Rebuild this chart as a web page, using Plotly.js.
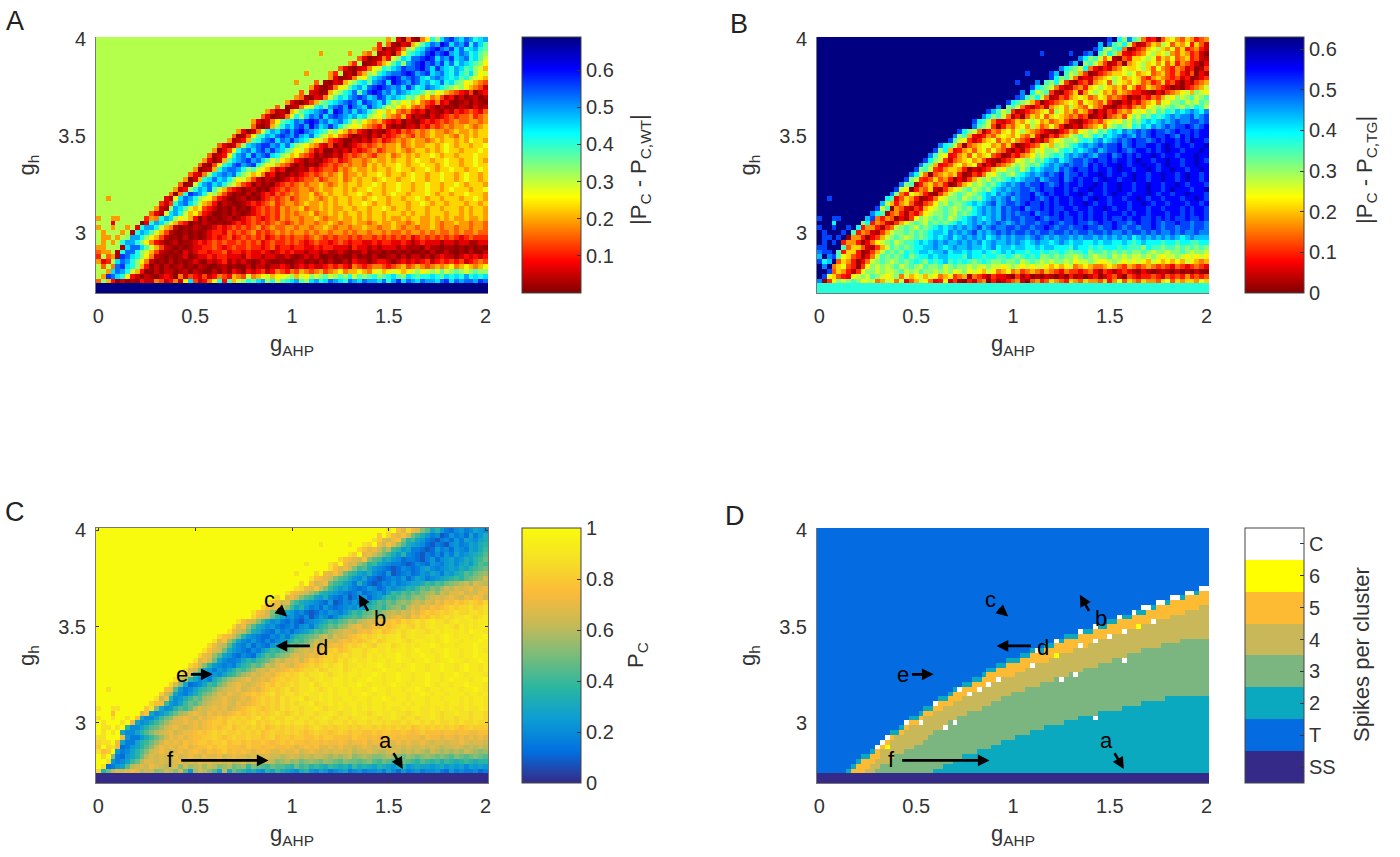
<!DOCTYPE html>
<html>
<head>
<meta charset="utf-8">
<script src="https://cdn.plot.ly/plotly-3.0.1.min.js"></script>
<style>body{margin:0;background:#fff}</style>
</head>
<body>
<div id="fig" style="width:1400px;height:857px"></div>
<script>
// grid of the parameter scan: 81 columns (gAHP), 53 rows (gh), row 0 is gh = 4
const nCols = 81;
const xTicks = [0, 0.5, 1, 1.5, 2];
const yTicks = [3, 3.5, 4];

// P_C: a=0, b=.04 ... z=1, one letter per cell.
// pcEdge = number of leading cells of each row that are at P_C = 1
const pcEdge = [60,58,56,55,53,52,50,48,47,45,44,42,41,39,37,35,34,32,31,29,28,27,25,24,23,22,21,20,19,18,17,16,15,14,12,12,11,10,9,0,0,0,0,0,0,0,0,0,0,0,0,0,0];
const pcRows = [
"wztrvsrnlhjgedfgefhgf",
"uzvsrtqmkigefcdgefdhegi",
"zwurqstnjkhgedcefdgehgfhi",
"wvzsqtrolihgfdcedcfgefhgij",
"zvtrsqnpkjgheedcdgefdgfehgik",
"wuzrsqomkigjfedcedfdgehfghijl",
"vtsrqtnlkhigfdeedcegdfghfgihjkm",
"wuzsqromjkhgfeedcdfedgfeghfhigjlk",
"zwtrsqnkligfedcdfedeghfefghgihjklm",
"vzsrtqmkjhgifedgcdefdegfhgehgijlkmno",
"wtsrqnlkigfhedcdefegdfhgefghijkjlmnoq",
"vztqrsmkjhgeifdcdfegefghhikjlkmnopqorqp",
"wvsrtqnkighfedegfdegfghjikmlnmoqprqrsqrs",
"wtsrqomjihgfedegdefgehkjlkmlnopnqprrsqrqsr",
"vzrsqnlkhgifedfcefgdfgikjlmlnonpqrqrsrqsrtsq",
"wusqrmkihgfedgcdfegefhjlkmlnonpqprqsrtsutuvutv",
"vtrsqnkhjgefdgedefgfhgjkljmnomprqsrtstuvuvvwuvw",
"wtsqnlihgefdcdfegfegikjlmnmopqprqsrtutuvuvwvvwwvw",
"zvsrqmjhfgedfcegfdfhjklkmnopnqrsrqtsutvuvwvwwxwvwx",
"wtrqnkhfgedfdcefghikjlmonpqrqsrtutvuvwvwxwwvwxwwxwxx",
"vrsolihfgedefdfgehjkmlnoqrsqrtsutuvwvuwvwxwwxwvxwxwxxwxy",
"wsqpmihfedgefdfghjlkmopqrrqstsuvtuvwvwxwwvwxwxxwxwyxxwxxwxy",
"vtsqnjgfeddfegehjklmnpqorqrstuvuvwvwwxvwxwwxxwxyxwxxwxxyxwxx",
"wrtolhfegedfdfgijlkmoqprrqstsutuvwuvwwxwvwxxwxwxyxxwxxxyxwxxwx",
"vsqplhfegdfedghjkmlnoprqrstsuvuvwvuwwxvwxwxwxxyxwxxwxxxyxxwxxxw",
"wtrqmigfedfegikjlmnpqrqsrtuvtuvwwvwxwwxwxxwxyxxwxxyxxwxxyxwxxxw",
"vsrolhgedfedhjlkmnoqrqrsrtuvuvwvwwvxwxwxxyxwxxyxxwxyxxwxxyxxwxx",
"wrsqmhfeefhjiklmoqprrsqsutuvvuwvwxwwxwxxwxyxxwxxyxwxxyxxwxxyxxwx",
"vtqnjgfefehjkmlnqprsrqstuvuvwvwxvwwxwxxyxwxxwxyxxwxxyxxwxyxxwxxx",
"wrqmhgegfhjlkmoqrqsrstutuvvwuvwwxvwxwxxwxyxxwxxyxxwxxyxxwxyxxwxxyx",
"vrskhfegfhjkmoprqrsrtuvuvwvwwxwvwxwxxwxxyxwxxyxxwxxyxxwxxyxwxxxwxx",
"wqpjhfgeikmopqrsqrsrtuvuvvwwvwxwwxxwxwxxyxxwxxyxxwxxyxxwxyxxxwxxyxx",
"vrnhdefhkjmoqrsrqrstutvuvwvwwxvwxwxxwxxyxwxxwxyxxwxxxyxwxxwxxyxxxwxx",
"tslgefhjklnpqrrsqrsrtuvuvwuvwwxwvwxwxxwxxwxyxxwxxwxxyxwxxwxxxwxxyxwxxw",
"zuqohfegikmnprqsrrstutuvwuvwwvwxwwxwxwxxwxxyxwxxwxxxwxxyxwxxwxxxwxxwxxx",
"wqsjfgikmlopqrsrqrsrtuvuvuwvwwxvwwxwxwwxxwxxwxxyxwxxwxxxwxxwxxxwxwxxwxx",
"vtskgfhkmlnpqrrsrqsrstuvuvuwvwvwwxvwwxwxwxxwxwxxwxxxwxwxxwxxxwxxwxwxxwxw",
"uwnhfgjlkmprqrsrsqrstuvutuvuwvwwvwwxwvwwxwwxwxwxxwxwwxwxxwwxwxwxwwxwwxww",
"rthfgikmoprsrqsrsrstutuvuvuvwvuvwvwwvwwxwvwwxwwvwxwwxwwvwxwwxwvwwxwwvwwvww",
"wzzwzzwzthffhkmnqrsrqsrstutuvuvuvwuvwvvwwvwwvwwxwvwwvwwxwwvwwxwvwwvwwxwvwwvwwvwwv",
"zwzzzwzshfgikmoqrrsrsrstuutvuvuvwuvuvwvwvwwvwvwwvwwvwvwwvwwvwvvwvwwvwvwvvwvwvvwv",
"zwwzwzjffhjlmoqrsrqrsrstutuvtuvuvuvtuvuvuvvuvwvuvuvvuvuvvuvuvuvuvtuvuvuvuvutuvuu",
"zwzwzhffhjlnpqrsqrsstutuvuvuuvuvuvtuvuuvuvutuvuutuvutuuttutuuttutstutttsttsttsst",
"wwzzzsgeegikmoqsrsrsttuuvutuvuuvuutuvtuutuuttutuutttsuttststttstsssrtssrssrsrsrsr",
"vwwzsheehjkmoqsrsrtstuutuuvtuututtutstututtsttstsstsrsstrssrsrsrsrrsrqrrqrrsrqrrq",
"uzvwsdeghjlnqsrsrstrsttutuutttsuttsttsstsrststrrsrsrrqrsrqrrsqrqrqqrqrqpqqrqpqpqp",
"wtuzgefhjlnqrsrqrsrstsrtstuststsrstsrrsrrsqrsrqrqrrqrpqqrqppqrqpqpqpoqpopopoqpono",
"zvznedghjmprqrqrsqrsrqsrrsqrsrrqrqqrqqpqrqpqpqqpopopqnoponnoponmonmnonmnmlnmlmnml",
"zzwgefhkmprrqrqqrsqrqsrrqrqrpqrpqpoqpnopnomnonmonmlnmmlmnlkmlklmlkjlkjkikjijkjijj",
"zwdeghlpqrqsrqpqrnqopqoqpnopmnoknmlkmllkjmkljkjikjijhkijihjihgijghihhghighghfhghg",
"vjmprqrsrpqqnoqpnqlgoqpnlhpimkjhigfjhkihgfijgfhgefghefgeffgehfdgefgeffgedgefeefde",
"a",
"a"
];
// isolated cells inside the P_C = 1 area: [row, col, level]
const pcStray = [[3,46,"w"],[3,52,"w"],[7,43,"w"],[9,41,"w"],[33,2,"w"],[37,0,"w"],[37,3,"w"],[37,4,"w"],[38,3,"t"]];

// reference P_C used in the |P_C - P_C,x| panels
const pcWT = 0.69;
const pcTG = 0.37;

// panel D: class borders per column, as the row where each class starts
const edgeRow = [51,51,51,51,51,51,50,49,48,47,47,46,45,44,43,42,42,41,40,39,39,38,37,37,36,35,35,34,33,33,32,32,31,31,30,29,29,28,28,27,27,27,26,26,25,25,25,24,24,23,23,22,22,22,21,21,21,20,20,20,19,19,18,18,18,17,17,17,16,16,15,15,15,14,14,14,13,13,13,12,12];
const fourRow = [51,51,51,51,51,51,51,51,51,51,50,49,48,46,45,44,43,43,42,41,41,40,39,39,38,38,37,37,36,36,35,35,34,34,33,33,32,32,31,31,31,30,30,29,29,28,28,28,27,27,26,26,26,25,25,25,24,24,23,23,23,22,22,22,21,21,21,20,20,20,19,19,19,18,18,18,17,17,17,16,16];
const threeRow = [51,51,51,51,51,51,51,51,51,51,51,51,50,49,49,48,47,47,46,46,45,45,44,43,42,42,41,40,40,39,39,38,38,38,37,37,36,36,35,35,34,34,34,33,33,33,32,32,32,31,31,31,30,30,30,29,29,29,28,28,28,27,27,27,26,26,26,25,25,25,25,24,24,24,24,23,23,23,23,23,23];
const twoRow = [51,51,51,51,51,51,51,51,51,51,51,51,51,51,51,51,51,51,51,51,51,51,51,51,50,50,49,49,48,48,47,47,47,46,46,46,45,45,44,44,44,43,43,43,42,42,42,41,41,41,41,40,40,40,39,39,39,39,38,38,38,38,38,37,37,37,37,36,36,36,36,36,35,35,35,35,35,35,35,35,35];
const chaosCells = [[45,12],[44,13],[43,14],[40,18],[40,21],[36,24],[41,26],[40,28],[33,29],[34,31],[33,33],[32,35],[31,37],[28,44],[25,45],[23,49],[31,50],[30,53],[24,54],[21,54],[23,57],[20,57],[39,57],[22,60],[18,62],[21,63],[27,63],[17,65],[16,67],[16,68],[19,69],[15,70],[15,71],[14,73],[14,74],[13,76],[13,77],[12,79],[12,80]];
const sixCells = [[45,14],[26,49],[20,66]];
const classNames = ["SS","T","2","3","4","5","6","C"];
const classColors = ["#352a87","#056be1","#0aa9c0","#7bb57f","#c8b85a","#fdbb33","#ffff00","#ffffff"];

// arrows of panels C and D: label, label x/y, tail x/y, head x/y
const arrowNames = ["a","b","c","d","e","f"];
const labelX = [1.483,1.452,0.886,1.157,0.431,0.371];
const labelY = [2.906,3.543,3.639,3.394,3.252,2.81];
const tailX = [1.52,1.397,0.92,1.1,0.47,0.42];
const tailY = [2.851,3.574,3.6,3.4,3.252,2.805];
const headX = [1.572,1.345,0.975,0.915,0.59,0.879];
const headY = [2.76,3.666,3.553,3.4,3.252,2.805];

const jetRev = [[0,"#800000"],[0.125,"#ff0000"],[0.375,"#ffff00"],[0.625,"#00ffff"],[0.875,"#0000ff"],[1,"#000080"]];
const parula = [[0,"#352a87"],[0.125,"#0270e0"],[0.25,"#0c9dd4"],[0.375,"#2ab7a0"],[0.5,"#7abc7a"],[0.625,"#c8ba55"],[0.75,"#fcbb39"],[0.875,"#f5e026"],[1,"#f9fb0e"]];

const W = 1400, H = 857;
const fontName = "Liberation Sans, Arial, sans-serif";
const tickFont = {family: fontName, size: 20, color: "#333"};
const titleFont = {family: fontName, size: 22, color: "#333"};

// decode the letter rows, row 0 on top
const pcGrid = pcRows.map((tail, r) => {
    let s = ("z".repeat(pcEdge[r]) + tail).slice(0, nCols);
    s = s.padEnd(nCols, s[s.length - 1]);
    return s.split("").map(ch => (ch.charCodeAt(0) - 97) * 0.04);
});
pcStray.forEach(c => { pcGrid[c[0]][c[1]] = (c[2].charCodeAt(0) - 97) * 0.04; });

// panel D classes
const classGrid = pcGrid.map((row, r) => row.map((_, c) => {
    if (r >= 51) return 0;
    if (r < edgeRow[c]) return 1;
    if (r === edgeRow[c]) return 2;
    if (r >= twoRow[c]) return 2;
    if (r >= threeRow[c]) return 3;
    if (r >= fourRow[c]) return 4;
    return 5;
}));
chaosCells.forEach(c => { classGrid[c[0]][c[1]] = 7; });
sixCells.forEach(c => { classGrid[c[0]][c[1]] = 6; });

const flip = g => g.slice().reverse();
const stepScale = [];
classColors.forEach((col, i) => {
    stepScale.push([i / 8, col]);
    stepScale.push([(i + 1) / 8, col]);
});

// pixel boxes of the panels: left, right, top, bottom, colorbar left
const boxes = [
    [96, 488, 37, 293, 522],
    [817, 1209, 37, 293, 1245],
    [96, 488, 528, 783, 522],
    [817, 1209, 528, 783, 1245]
];

function hm(z, i, scale, zmin, zmax, cb) {
    const b = boxes[i];
    return {
        type: "heatmap", z: flip(z), x0: 0, dx: 0.025, y0: 2.7, dy: 0.025,
        xaxis: i ? "x" + (i + 1) : "x", yaxis: i ? "y" + (i + 1) : "y",
        colorscale: scale, zmin: zmin, zmax: zmax, hoverinfo: "skip",
        colorbar: Object.assign({
            x: b[4] / W, xanchor: "left", xref: "paper",
            y: 1 - b[3] / H, yanchor: "bottom", yref: "paper",
            len: (b[3] - b[2]) / H, lenmode: "fraction",
            thickness: 59, thicknessmode: "pixels", xpad: 0, ypad: 0,
            outlinecolor: "#444", outlinewidth: 1, ticks: "inside", ticklen: 4,
            tickcolor: "#333", tickfont: tickFont
        }, cb)
    };
}

const data = [
    hm(pcGrid.map(r => r.map(p => Math.abs(p - pcWT))), 0, jetRev, 0, 0.689, {tickvals: [0.1,0.2,0.3,0.4,0.5,0.6], ticktext: ["0.1","0.2","0.3","0.4","0.5","0.6"]}),
    hm(pcGrid.map(r => r.map(p => Math.abs(p - pcTG))), 1, jetRev, 0, 0.63, {tickvals: [0,0.1,0.2,0.3,0.4,0.5,0.6], ticktext: ["0","0.1","0.2","0.3","0.4","0.5","0.6"]}),
    hm(pcGrid, 2, parula, 0, 1, {tickvals: [0,0.2,0.4,0.6,0.8,1], ticktext: ["0","0.2","0.4","0.6","0.8","1"]}),
    hm(classGrid, 3, stepScale, -0.5, 7.5, {tickvals: classNames.map((_, i) => i), ticktext: classNames})
];

const layout = {
    width: W, height: H, showlegend: false, paper_bgcolor: "#fff", plot_bgcolor: "#fff",
    margin: {l: 0, r: 0, t: 0, b: 0, autoexpand: false},
    annotations: []
};

boxes.forEach((b, i) => {
    const sfx = i ? String(i + 1) : "";
    const boxed = i === 2;
    layout["xaxis" + sfx] = {
        domain: [b[0] / W, b[1] / W], range: [-0.0125, 2.0125], anchor: "y" + sfx,
        tickvals: xTicks, ticktext: xTicks.map(String), tickfont: tickFont, ticklabelstandoff: 5,
        showgrid: false, zeroline: false, showline: true, linecolor: "#777", linewidth: 1,
        mirror: boxed ? "ticks" : false, ticks: boxed ? "inside" : "", ticklen: 3, tickcolor: "#333",
        title: {text: "g<sub>AHP</sub>", font: titleFont, standoff: 9}
    };
    layout["yaxis" + sfx] = {
        domain: [1 - b[3] / H, 1 - b[2] / H], range: [2.6875, 4.0125], anchor: "x" + sfx,
        tickvals: yTicks, ticktext: yTicks.map(String), tickfont: tickFont, ticklabelstandoff: 5,
        showgrid: false, zeroline: false, showline: true, linecolor: "#777", linewidth: 1,
        mirror: boxed ? "ticks" : false, ticks: boxed ? "inside" : "", ticklen: 3, tickcolor: "#333",
        title: {text: "g<sub>h</sub>", font: titleFont, standoff: 17}
    };
});

// panel letters
[["A", 15, 21], ["B", 739, 24], ["C", 15, 512], ["D", 735, 516]].forEach(p => {
    layout.annotations.push({
        text: p[0], x: p[1] / W, y: 1 - p[2] / H, xref: "paper", yref: "paper", xanchor: "center", yanchor: "middle",
        showarrow: false, font: {family: fontName, size: 27, color: "#222"}
    });
});

// colorbar titles, rotated to read upwards
[["|P<sub>C</sub> - P<sub>C,WT</sub>|", 640, 170], ["|P<sub>C</sub> - P<sub>C,TG</sub>|", 1366, 170], ["P<sub>C</sub>", 637, 655], ["Spikes per cluster", 1361, 655]].forEach(p => {
    layout.annotations.push({
        text: p[0], x: p[1] / W, y: 1 - p[2] / H, xref: "paper", yref: "paper", xanchor: "center", yanchor: "middle",
        showarrow: false, textangle: -90, font: titleFont
    });
});

// arrows and labels on C and D
["3", "4"].forEach(n => {
    arrowNames.forEach((name, i) => {
        layout.annotations.push({
            x: headX[i], y: headY[i], ax: tailX[i], ay: tailY[i], xref: "x" + n, yref: "y" + n,
            axref: "x" + n, ayref: "y" + n, text: "", showarrow: true,
            arrowhead: 2, arrowsize: 0.9, arrowwidth: 2.6, arrowcolor: "#000", standoff: 0, startstandoff: 0
        });
        layout.annotations.push({
            x: labelX[i], y: labelY[i], xref: "x" + n, yref: "y" + n, text: name, showarrow: false,
            xanchor: "center", yanchor: "middle", font: {family: fontName, size: 22, color: "#000"}
        });
    });
});

Plotly.newPlot("fig", data, layout, {displayModeBar: false, staticPlot: true});
</script>
</body>
</html>
